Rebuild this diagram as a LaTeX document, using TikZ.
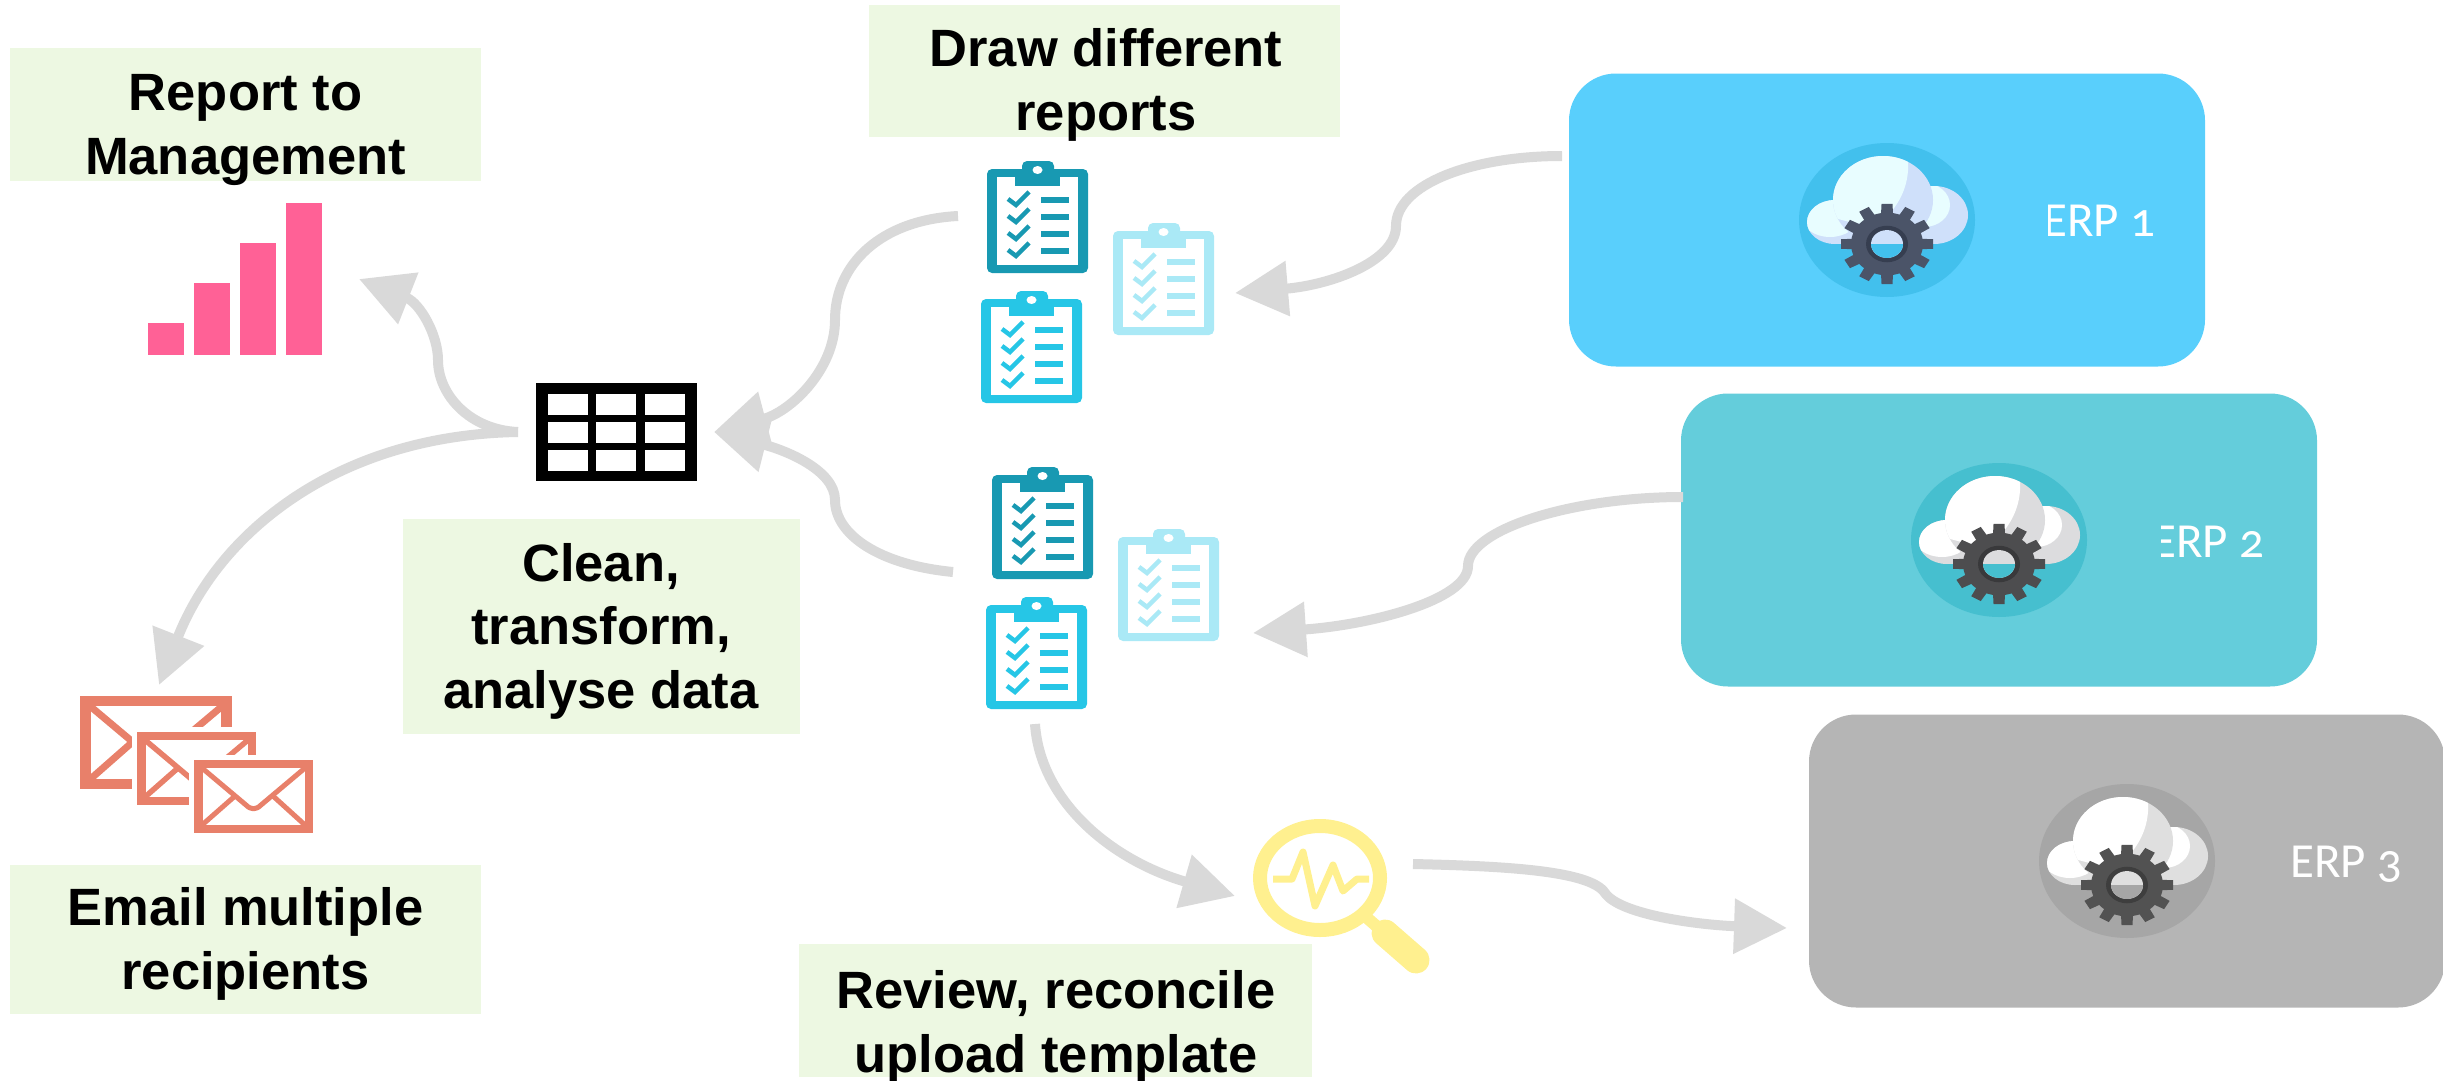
\documentclass[tikz,border=0pt]{standalone}
\usepackage{fontspec}
\usetikzlibrary{arrows.meta}
\setmainfont{Liberation Sans}
\newfontfamily\erpfont[Numbers=OldStyle]{Carlito}

\definecolor{labelgreen}{HTML}{EDF8E2}
\definecolor{linegrey}{HTML}{D9D9D9}
\definecolor{barpink}{HTML}{FF6196}
\definecolor{mailred}{HTML}{E8806A}
\definecolor{lensyellow}{HTML}{FFF08F}
\definecolor{clipdark}{HTML}{1899B2}
\definecolor{clipblue}{HTML}{26C6E6}
\definecolor{clippale}{HTML}{AAE9F6}
\definecolor{erpabox}{HTML}{59CFFC}
\definecolor{erparing}{HTML}{42C0ED}
\definecolor{erpashade}{HTML}{CFE0FA}
\definecolor{erpalight}{HTML}{E8FDFF}
\definecolor{erpagear}{HTML}{4B5468}
\definecolor{erpahole}{HTML}{363E50}
\definecolor{erpbbox}{HTML}{64CDDB}
\definecolor{erpbring}{HTML}{46BFCF}
\definecolor{erpbshade}{HTML}{DCDCDE}
\definecolor{erpblight}{HTML}{FFFFFF}
\definecolor{erpbgear}{HTML}{4D4D4F}
\definecolor{erpbhole}{HTML}{39393B}
\definecolor{erpcbox}{HTML}{B5B5B5}
\definecolor{erpcring}{HTML}{A6A6A6}
\definecolor{erpcshade}{HTML}{DFDFDF}
\definecolor{erpclight}{HTML}{FFFFFF}
\definecolor{erpcgear}{HTML}{525252}
\definecolor{erpchole}{HTML}{3E3E3E}

\tikzset{
    labeltext/.style={align=center, inner sep=0pt, font=\fontsize{52.5}{63.5}\selectfont\bfseries},
    erpbox/.style={minimum width=636pt, minimum height=293pt, rounded corners=47pt, inner sep=0pt},
    erptext/.style={text=white, anchor=base west, inner sep=0pt, font=\erpfont\fontsize{49}{49}\selectfont},
    flow/.style={draw=linegrey, line width=10pt, -{Triangle[length=53pt,width=53pt]}},
    pics/clipboard/.style={code={
        \fill[#1, rounded corners=5pt] (0,0) rectangle (101,104);
        \fill[white] (10,8) rectangle (91,96);
        \fill[#1, rounded corners=5pt] (35,-8) rectangle (67,10);
        \fill[#1] (28,0) rectangle (73,17);
        \fill[white] (50.5,1) ellipse (5 and 4);
        \foreach \y in {31,48,65,82} {
            \draw[#1, line width=4.5pt] (21,\y-1) -- (29,\y+5) -- (42,\y-8);
            \fill[#1] (54,\y-3) rectangle (82,\y+3);
        }
    }},
    pics/envelope/.style={code={
        \fill[white] (-5,-5) rectangle (124,78);
        \fill[mailred] (0,0) rectangle (119,73);
        \fill[white] (8.5,8) rectangle (110.5,65);
        \draw[mailred, line width=#1, line join=round] (8,8) -- (52,45) .. controls (57,50) and (62,50) .. (67,45) -- (111,8);
        \draw[mailred, line width=#1] (8,65) -- (41,36) (111,65) -- (79,36);
    }},
    pics/erpcloud/.style={code={
        \fill[#1ring] (0,0) ellipse (88 and 77);
        \fill[#1shade] (-52,-10) rectangle (47,24);
        \fill[#1shade] (47,-5) ellipse (34 and 29);
        \scope
            \clip (47,-5) ellipse (34 and 29);
            \fill[#1light] (37,-15) ellipse (26 and 22);
        \endscope
        \fill[#1shade] (-52,2) ellipse (28 and 22);
        \scope
            \clip (-52,2) ellipse (28 and 22);
            \fill[#1light] (-57,-3) ellipse (28 and 20);
        \endscope
        \fill[#1shade] (-4,-20) ellipse (50 and 44);
        \scope
            \clip (-4,-20) ellipse (50 and 44);
            \fill[#1light] (-60,-70) -- (20,-70) .. controls (24,-45) and (18,-25) .. (4,-8) -- (-30,4) -- (-60,-4) -- cycle;
        \endscope
        \scope[shift={(0,24)}, yscale=0.87]
            \foreach \a in {0,30,...,330}
                \fill[#1gear, rotate=\a] (-6,-34) -- (-5.5,-46) -- (5.5,-46) -- (6,-34) -- cycle;
            \fill[#1gear] (0,0) circle (36);
            \fill[#1hole] (0,0) circle (21);
            \fill[#1shade] (0,0) circle (16);
            \scope
                \clip (0,0) circle (16);
                \fill[#1ring] (-20,0) rectangle (20,20);
            \endscope
        \endscope
    }}
}

\begin{document}
\begin{tikzpicture}[x=1pt, y=-1pt]
    \useasboundingbox (0,0) rectangle (2443,1081);

    % erp systems
    \node[erpbox, fill=erpabox] (erpa) at (1887,220) {};
    \node[erpbox, fill=erpbbox] (erpb) at (1999,540) {};
    \node[erpbox, fill=erpcbox] (erpc) at (2127,861) {};
    \pic (clouda) at (erpa) {erpcloud=erpa};
    \pic (cloudb) at (erpb) {erpcloud=erpb};
    \pic (cloudc) at (erpc) {erpcloud=erpc};
    \scope
        \clip (2048,150) rectangle (2200,300);
        \node[erptext] (erpatext) at (2043,236) {ERP 1};
    \endscope
    \scope
        \clip (2161,470) rectangle (2310,620);
        \node[erptext] (erpbtext) at (2152,557) {ERP 2};
    \endscope
    \node[erptext] (erpctext) at (2290,877) {ERP 3};

    % labels
    \fill[labelgreen] (10,48) rectangle (481,181);
    \fill[labelgreen] (869,5) rectangle (1340,137);
    \fill[labelgreen] (403,519) rectangle (800,734);
    \fill[labelgreen] (10,865) rectangle (481,1014);
    \fill[labelgreen] (799,944) rectangle (1312,1077);
    \node[labeltext] (reportlabel) at (245.5,130) {Report to\\Management};
    \node[labeltext] (drawlabel) at (1106,85) {Draw different\\reports};
    \node[labeltext] (cleanlabel) at (601,631) {Clean,\\transform,\\analyse data};
    \node[labeltext] (emaillabel) at (245.5,944) {Email multiple\\recipients};
    \node[labeltext] (reviewlabel) at (1056,1027) {Review, reconcile\\upload template};

    % clipboards
    \pic (clipdarka) at (987,169) {clipboard=clipdark};
    \pic (clipbluea) at (981,299) {clipboard=clipblue};
    \pic (clippalea) at (1113,231) {clipboard=clippale};
    \pic (clipdarkb) at (992,475) {clipboard=clipdark};
    \pic (clipblueb) at (986,605) {clipboard=clipblue};
    \pic (clippaleb) at (1118,537) {clipboard=clippale};

    % table
    \node[fill=black, minimum width=161pt, minimum height=98pt, inner sep=0pt] (table) at (616.5,432) {};
    \foreach \x in {548,596,645}
        \foreach \y in {394,422,450}
            \fill[white] (\x,\y) rectangle ++(40,21);

    % chart
    \foreach \x/\y in {148/323,194/283,240/243,286/203}
        \fill[barpink] (\x,\y) rectangle (\x+36,355);

    % mails
    \pic[scale=1.28] (mailone) at (80,696) {envelope=7pt};
    \pic (mailtwo) at (137,732) {envelope=5.5pt};
    \pic (mailthree) at (194,760) {envelope=5pt};

    % lens
    \draw[lensyellow, line width=14pt] (1320,878) ellipse (60 and 52);
    \draw[lensyellow, line width=12pt] (1366,917) -- (1390,938);
    \draw[lensyellow, line width=27pt, line cap=round] (1385,933) -- (1416,960);
    \draw[lensyellow, line width=7pt, line join=round] (1273,879) -- (1292,879) -- (1303,852) -- (1315,906) -- (1333,865) -- (1343,891) -- (1357,879) -- (1369,879);

    % connector ends
    \coordinate (erpaout) at (1562,156);
    \coordinate (clipain) at (1235,293);
    \coordinate (erpbout) at (1683,497);
    \coordinate (clipbin) at (1253,633);
    \coordinate (clipaout) at (958,216);
    \coordinate (clipbout) at (953,572);
    \coordinate (tablein) at (714,432);
    \coordinate (tableout) at (518,432);
    \coordinate (chartin) at (359,279);
    \coordinate (mailin) at (159,685);
    \coordinate (clipcout) at (1035,724);
    \coordinate (lensin) at (1235,896);
    \coordinate (lensout) at (1413,864);
    \coordinate (erpcin) at (1787,928);

    % connectors
    \draw[flow] (erpaout) .. controls (1470,156) and (1396,185) .. (1396,226) .. controls (1396,262) and (1330,285) .. (clipain);
    \draw[flow] (erpbout) .. controls (1570,497) and (1468,530) .. (1468,566) .. controls (1468,600) and (1370,625) .. (clipbin);
    \draw[flow] (clipaout) .. controls (880,220) and (835,265) .. (835,320) .. controls (835,370) and (790,412) .. (tablein);
    \draw[flow] (clipbout) .. controls (880,565) and (835,535) .. (835,500) .. controls (835,470) and (785,450) .. (tablein);
    \draw[flow] (tableout) .. controls (470,430) and (438,395) .. (438,360) .. controls (438,335) and (420,303) .. (chartin);
    \draw[flow] (tableout) .. controls (340,435) and (220,530) .. (mailin);
    \draw[flow] (clipcout) .. controls (1040,800) and (1110,860) .. (lensin);
    \draw[flow] (lensout) .. controls (1500,866) and (1590,870) .. (1605,893) .. controls (1620,915) and (1700,925) .. (erpcin);
\end{tikzpicture}
\end{document}
